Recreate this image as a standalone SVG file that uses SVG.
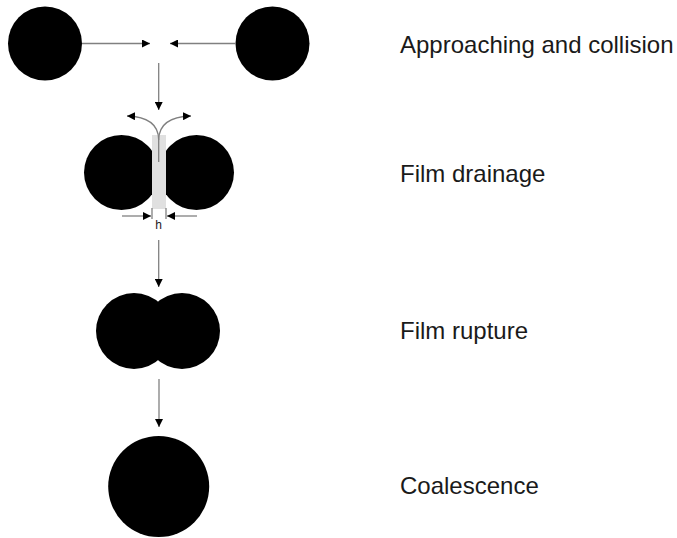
<svg xmlns="http://www.w3.org/2000/svg" width="677" height="538" viewBox="0 0 677 538">
<style>
.drop{fill:#000}
.ln{stroke:#808080;stroke-width:1.3;fill:none}
.lbl{font-family:"Liberation Sans",Arial,sans-serif;font-size:24px;fill:#1a1a1a}
.h{font-family:"Liberation Sans",Arial,sans-serif;font-size:12px;fill:#1a1a1a}
</style>
<defs>
<marker id="ah" viewBox="0 0 10 10" refX="10" refY="5" markerWidth="8" markerHeight="8" markerUnits="userSpaceOnUse" orient="auto">
<path d="M0,0 L10,5 L0,10 z" fill="#000"/>
</marker>
<clipPath id="cl"><rect x="0" y="120" width="152" height="100"/></clipPath>
<clipPath id="cr"><rect x="166" y="120" width="100" height="100"/></clipPath>
</defs>
<rect width="677" height="538" fill="#fff"/>
<g id="stage1">
<circle class="drop" cx="45" cy="43.5" r="37"/>
<circle class="drop" cx="272.5" cy="43.5" r="37"/>
</g>
<g id="stage2">
<circle class="drop" cx="121.5" cy="172.5" r="37.5" clip-path="url(#cl)"/>
<circle class="drop" cx="196.5" cy="172.5" r="37.5" clip-path="url(#cr)"/>
<rect x="152" y="135" width="14" height="74" fill="#e0e0e0"/>
<text class="h" x="158.5" y="229" text-anchor="middle">h</text>
</g>
<g id="stage3">
<circle class="drop" cx="134" cy="331" r="38"/>
<circle class="drop" cx="182" cy="331" r="38"/>
</g>
<g id="stage4">
<circle class="drop" cx="158.7" cy="486.5" r="50.5"/>
</g>
<g id="labels">
<text class="lbl" x="400" y="53">Approaching and collision</text>
<text class="lbl" x="400" y="182">Film drainage</text>
<text class="lbl" x="400" y="339">Film rupture</text>
<text class="lbl" x="400" y="494">Coalescence</text>
</g>
<g id="connectors">
<line class="ln" x1="82" y1="43.5" x2="150" y2="43.5" marker-end="url(#ah)"/>
<line class="ln" x1="236" y1="43.5" x2="170" y2="43.5" marker-end="url(#ah)"/>
<line class="ln" x1="158.7" y1="63" x2="158.7" y2="110" marker-end="url(#ah)"/>
<path class="ln" d="M158.7,162 L158.7,140 Q158.7,117 127,116" marker-end="url(#ah)"/>
<path class="ln" d="M158.7,140 Q158.7,117 191,116" marker-end="url(#ah)"/>
<line class="ln" x1="122" y1="216" x2="151" y2="216" marker-end="url(#ah)"/>
<line class="ln" x1="197" y1="216" x2="167" y2="216" marker-end="url(#ah)"/>
<line class="ln" x1="152" y1="208" x2="152" y2="219"/>
<line class="ln" x1="166" y1="208" x2="166" y2="219"/>
<line class="ln" x1="158.7" y1="240" x2="158.7" y2="287" marker-end="url(#ah)"/>
<line class="ln" x1="159" y1="379" x2="159" y2="427" marker-end="url(#ah)"/>
</g>
</svg>
